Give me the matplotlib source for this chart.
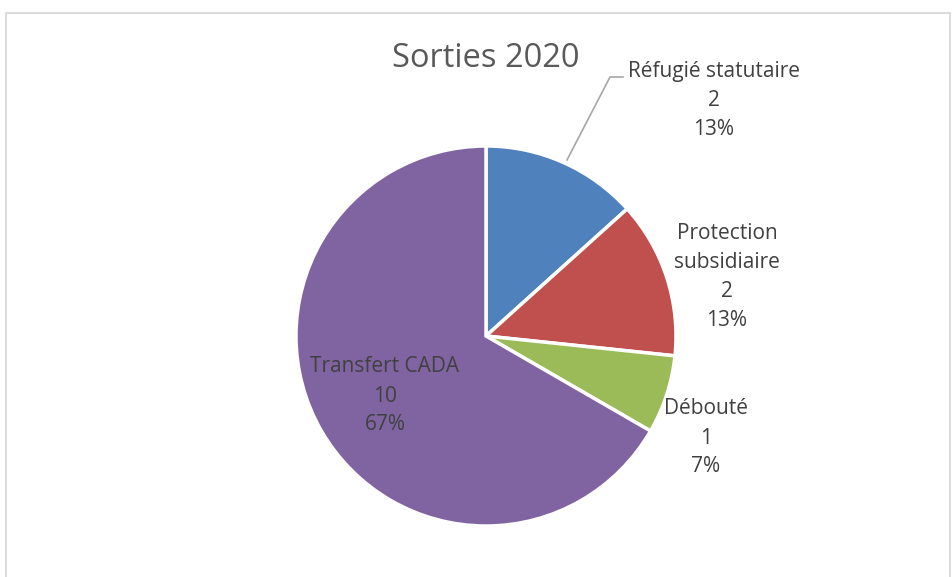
import matplotlib.pyplot as plt
from matplotlib.patches import Rectangle

labels = ["Réfugié statutaire", "Protection\nsubsidiaire", "Débouté", "Transfert CADA"]
values = [2, 2, 1, 10]
colors = ["#4F81BD", "#C0504D", "#9BBB59", "#8064A2"]
title = "Sorties 2020"

W, H = 953, 577
fig = plt.figure(figsize=(W / 100, H / 100), dpi=100)
ax = fig.add_axes([0, 0, 1, 1])

# chart frame (bottom runs off the picture)
ax.add_patch(Rectangle((6, -10), 944, H - 13 + 10, fill=False, edgecolor="#D9D9D9", lw=1.3))

cx, cy, r = 486, H - 336, 190
wedges, _ = ax.pie(values, colors=colors, startangle=90, counterclock=False,
                   center=(cx, cy), radius=r, frame=True,
                   wedgeprops=dict(edgecolor="white", linewidth=2.5))
ax.set_xlim(0, W)
ax.set_ylim(0, H)
ax.set_aspect("equal")
ax.axis("off")

total = sum(values)
txt = [f"{l}\n{v}\n{round(100 * v / total)}%" for l, v in zip(labels, values)]
pos = [(714, H - 100), (727, H - 277), (706, H - 438), (385, H - 396)]
for t, (x, y) in zip(txt, pos):
    ax.text(x, y, t, ha="center", va="center", fontsize=15, color="#404040",
            family="Open Sans", linespacing=1.5)

# leader line for the first label
ax.plot([567, 610, 623], [H - 160, H - 77, H - 77], color="#A6A6A6", lw=1.2)

ax.text(486, H - 58, title, ha="center", va="center", fontsize=23.5,
        color="#595959", family="Open Sans")

fig.savefig("out.png", dpi=100)
